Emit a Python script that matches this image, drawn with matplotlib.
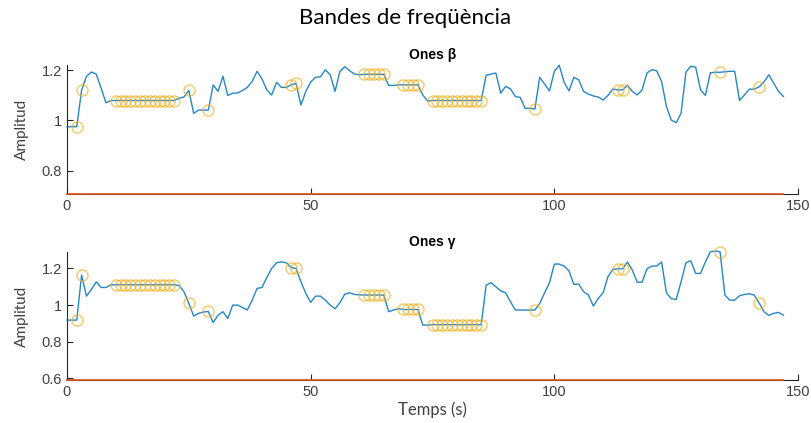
import matplotlib
matplotlib.use("Agg")
import matplotlib.pyplot as plt
import numpy as np

# temps (s), un valor per segon
temps = np.arange(0, 148)

# ones beta
beta = [0.975, 0.975, 0.975, 1.12, 1.175, 1.192, 1.184, 1.128, 1.07, 1.079,
        1.079, 1.079, 1.079, 1.079, 1.079, 1.079, 1.079, 1.079, 1.079, 1.079,
        1.079, 1.079, 1.079, 1.088, 1.093, 1.119, 1.028, 1.041, 1.041, 1.041,
        1.141, 1.115, 1.175, 1.099, 1.108, 1.109, 1.119, 1.131, 1.155, 1.195,
        1.165, 1.121, 1.101, 1.151, 1.131, 1.131, 1.141, 1.147, 1.061, 1.115,
        1.152, 1.171, 1.173, 1.201, 1.181, 1.115, 1.195, 1.213, 1.197, 1.184,
        1.181, 1.183, 1.183, 1.183, 1.183, 1.183, 1.139, 1.139, 1.141, 1.141,
        1.141, 1.141, 1.141, 1.101, 1.077, 1.079, 1.079, 1.079, 1.079, 1.079,
        1.079, 1.079, 1.079, 1.079, 1.079, 1.079, 1.179, 1.184, 1.188, 1.108,
        1.135, 1.125, 1.095, 1.091, 1.048, 1.048, 1.045, 1.171, 1.144, 1.117,
        1.195, 1.219, 1.152, 1.117, 1.171, 1.161, 1.115, 1.104, 1.097, 1.093,
        1.081, 1.099, 1.125, 1.121, 1.121, 1.139, 1.115, 1.101, 1.121, 1.188,
        1.201, 1.197, 1.155, 1.055, 1.001, 0.991, 1.028, 1.192, 1.215, 1.211,
        1.121, 1.099, 1.189, 1.191, 1.191, 1.193, 1.195, 1.195, 1.079, 1.101,
        1.124, 1.124, 1.133, 1.152, 1.181, 1.148, 1.115, 1.095]

# ones gamma
gamma = [0.918, 0.918, 0.918, 1.164, 1.049, 1.085, 1.127, 1.096, 1.096, 1.111,
         1.111, 1.111, 1.111, 1.111, 1.111, 1.111, 1.111, 1.111, 1.111, 1.111,
         1.111, 1.111, 1.111, 1.107, 1.073, 1.009, 0.94, 0.955, 0.962, 0.965,
         0.905, 0.945, 0.964, 0.927, 1.0, 1.0, 0.987, 0.973, 1.027, 1.091,
         1.096, 1.151, 1.2, 1.231, 1.236, 1.231, 1.205, 1.2, 1.127, 1.064,
         1.015, 1.049, 1.049, 1.027, 1.0, 0.98, 1.013, 1.06, 1.067, 1.058,
         1.056, 1.055, 1.055, 1.055, 1.055, 1.055, 0.964, 0.973, 0.98, 0.976,
         0.976, 0.976, 0.976, 0.891, 0.891, 0.893, 0.893, 0.893, 0.893, 0.893,
         0.893, 0.893, 0.893, 0.893, 0.893, 0.893, 1.109, 1.122, 1.1, 1.078,
         1.067, 1.018, 0.973, 0.973, 0.973, 0.973, 0.973, 1.009, 1.067, 1.122,
         1.224, 1.224, 1.213, 1.187, 1.113, 1.115, 1.073, 1.055, 0.995, 1.036,
         1.067, 1.155, 1.195, 1.198, 1.198, 1.235, 1.191, 1.125, 1.125, 1.198,
         1.213, 1.213, 1.235, 1.067, 1.035, 1.031, 1.127, 1.231, 1.242, 1.173,
         1.173, 1.236, 1.291, 1.295, 1.291, 1.055, 1.027, 1.027, 1.051, 1.058,
         1.062, 1.055, 1.013, 0.964, 0.944, 0.955, 0.96, 0.945]

# instants marcats amb cercles
marques = [2, 3] + list(range(10, 23)) + [25, 29, 46, 47] + list(range(61, 66)) \
    + list(range(69, 73)) + list(range(75, 86)) + [96, 113, 114, 134, 142]

# linia de base (vermella) de cada subgrafic
base_beta = 0.708
base_gamma = 0.591

blau = "#0072BD"
vermell = "#D95319"
groc = "#EDB120"
gris = "#262626"

fig = plt.figure(figsize=(8.11, 4.23), dpi=100)
ax1 = fig.add_axes([0.0826, 0.5414, 0.9014, 0.305])
ax2 = fig.add_axes([0.0826, 0.1017, 0.9014, 0.3026])

panells = [(ax1, beta, base_beta, (base_beta, 1.22), [0.8, 1, 1.2], "Ones β"),
           (ax2, gamma, base_gamma, (base_gamma, 1.29), [0.6, 0.8, 1, 1.2], "Ones γ")]

for ax, serie, base, lims, yt, titol in panells:
    serie = np.array(serie)
    ax.plot(temps, serie, color=blau, lw=1.0, alpha=0.85, zorder=3, clip_on=False)
    ax.plot(temps[marques], serie[marques], "o", ms=8, mfc="none",
            mec=groc, mew=0.9, alpha=0.75, zorder=4, clip_on=False)
    ax.plot([temps[0], temps[-1]], [base, base], color=vermell, lw=1.4,
            alpha=0.85, clip_on=False, zorder=5)
    ax.set_xlim(0, 150)
    ax.set_ylim(*lims)
    ax.set_xticks([0, 50, 100, 150])
    ax.set_yticks(yt)
    ax.set_yticklabels([f"{v:g}" for v in yt])
    ax.spines["top"].set_visible(False)
    ax.spines["right"].set_visible(False)
    for s in ["left", "bottom"]:
        ax.spines[s].set_color(gris)
        ax.spines[s].set_linewidth(0.8)
    ax.tick_params(direction="in", length=4, width=0.8, colors=gris,
                   labelsize=10.5, labelcolor="#404040")
    for lab in ax.get_xticklabels() + ax.get_yticklabels():
        lab.set_family("Liberation Sans")
    ax.set_title(titol, fontsize=10, fontweight="bold", family="Liberation Sans",
                 pad=4)
    ax.set_ylabel("Amplitud", fontsize=11, family="Lato", color="#404040",
                  labelpad=9)

ax2.set_xlabel("Temps (s)", fontsize=12, family="Lato", color="#404040",
               labelpad=2)
fig.suptitle("Bandes de freqüència", fontsize=16, family="Lato", y=0.982)

fig.savefig("out.png", dpi=100)
